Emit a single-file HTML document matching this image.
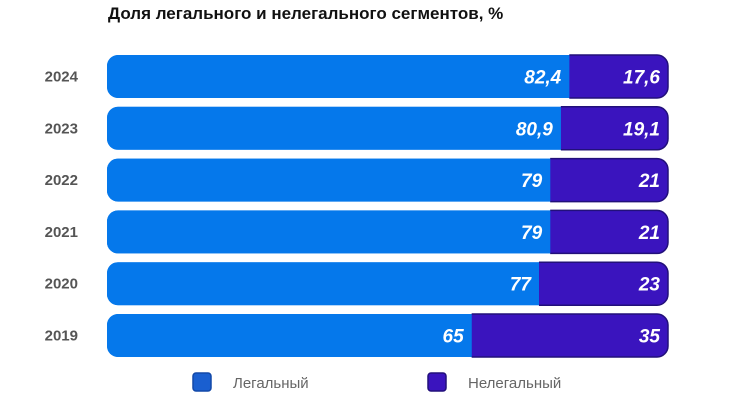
<!DOCTYPE html>
<html><head><meta charset="utf-8"><style>
body{margin:0;width:730px;height:402px;background:#fff;font-family:"Liberation Sans",sans-serif;overflow:hidden;position:relative}
.t{position:absolute;left:108px;top:4px;font-size:17px;font-weight:bold;color:#111}
</style></head><body>
<div class="t">Доля легального и нелегального сегментов, %</div>
<svg id="c" width="730" height="402" style="position:absolute;left:0;top:0"></svg>
<script>
const years=["2024","2023","2022","2021","2020","2019"];
const legalVals=[82.4,80.9,79,79,77,65];
const illegalVals=[17.6,19.1,21,21,23,35];
const legalLabels=["82,4","80,9","79","79","77","65"];
const illegalLabels=["17,6","19,1","21","21","23","35"];
const svg=document.getElementById('c'),NS="http://www.w3.org/2000/svg";
const x0=107,x1=668,y0=55,step=51.8,bh=43;
const xs=v=>x0+(x1-x0)*v/100;
function el(t,a,p){const e=document.createElementNS(NS,t);for(const k in a)e.setAttribute(k,a[k]);(p||svg).appendChild(e);return e;}
years.forEach((y,i)=>{
 const top=y0+i*step;const tot=legalVals[i]+illegalVals[i];
 const g=el('g',{});
 
 
 const yl=el('text',{x:78,y:top+bh/2+5,'text-anchor':'end','font-size':15,'font-weight':'bold',fill:'#555'},g);yl.textContent=y;
 
 
 const cid='clip'+i, pid='pclip'+i;
 const xb=xs(legalVals[i]);
 const cp=el('clipPath',{id:cid},g);el('rect',{x:x0,y:top,width:xs(tot)-x0,height:bh,rx:11},cp);
 const pp=el('clipPath',{id:pid},g);el('rect',{x:xb,y:top-3,width:xs(tot)-xb+5,height:bh+6},pp);
 el('rect',{x:x0,y:top,width:xs(tot)-x0,height:bh,rx:11,fill:'#0578eb'},g);
 const ill=el('rect',{x:x0,y:top,width:xs(tot)-x0,height:bh,rx:11,fill:'#3a14be',stroke:'#22107a','stroke-width':1.5,'clip-path':'url(#'+pid+')'},g);
 
 
 const lg=el('rect',{x:x0,y:top,width:xb-x0,height:bh,fill:'#0578eb','clip-path':'url(#'+cid+')'},g);
 
 
 const a=el('text',{x:xb-8,y:top+bh/2+7,'text-anchor':'end','font-size':19,'font-weight':'bold','font-style':'italic',fill:'#fff'},g);a.textContent=legalLabels[i];
 
 
 const b=el('text',{x:xs(tot)-8,y:top+bh/2+7,'text-anchor':'end','font-size':19,'font-weight':'bold','font-style':'italic',fill:'#fff'},g);b.textContent=illegalLabels[i];
 
 
});
const leg=[["Легальный","#1a5fd0","#1248a8",193,233],["Нелегальный","#3a14be","#22107a",428,468]];
leg.forEach(l=>{
 const s=el('rect',{x:l[3],y:373,width:18,height:18,rx:3,fill:l[1],stroke:l[2],'stroke-width':1.5});
 
 
 const t=el('text',{x:l[4],y:388,'font-size':15,fill:'#666'});t.textContent=l[0];
 
 
});
</script>
</body></html>
